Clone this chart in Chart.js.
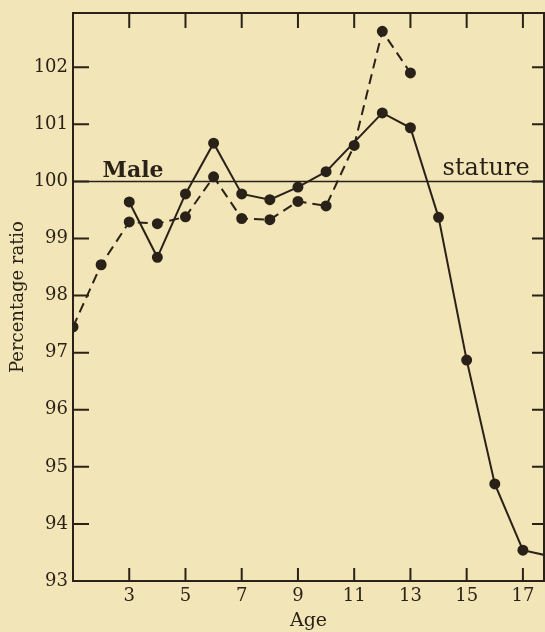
<!DOCTYPE html>
<html>
<head>
<meta charset="utf-8">
<script src="https://cdn.jsdelivr.net/npm/chart.js@4/dist/chart.umd.min.js"></script>
<style>
html, body { margin: 0; padding: 0; background: #f2e5b7; }
#wrap { width: 545px; height: 632px; }
</style>
</head>
<body>
<div id="wrap"><canvas id="ratio" width="545" height="632"></canvas></div>
<script>
// percentage ratio of female to male stature, by age
var dashedAges = [1, 2, 3, 4, 5, 6, 7, 8, 9, 10, 11, 12, 13];
var dashedValues = [97.45, 98.54, 99.29, 99.26, 99.38, 100.08, 99.35, 99.33, 99.65, 99.57, 100.63, 102.63, 101.9];
var solidAges = [3, 4, 5, 6, 7, 8, 9, 10, 12, 13, 14, 15, 16, 17, 18];
var solidValues = [99.64, 98.67, 99.78, 100.67, 99.78, 99.68, 99.9, 100.17, 101.2, 100.94, 99.37, 96.87, 94.7, 93.54, 93.43];
var xTicks = [3, 5, 7, 9, 11, 13, 15, 17];
var yTicks = [93, 94, 95, 96, 97, 98, 99, 100, 101, 102];
var maleLine = 100;

var ink = "#2a2218";
var serif = "'DejaVu Serif', 'Liberation Serif', serif";

function pts(xs, ys) {
    return xs.map(function (x, i) { return { x: x, y: ys[i] }; });
}

var frame = {
    id: "frame",
    beforeDatasetsDraw: function (chart) {
        var ctx = chart.ctx, a = chart.chartArea, y = chart.scales.y;
        var py = y.getPixelForValue(maleLine);
        ctx.save();
        ctx.strokeStyle = ink;
        ctx.lineWidth = 1.5;
        ctx.beginPath();
        ctx.moveTo(a.left, py);
        ctx.lineTo(a.right, py);
        ctx.stroke();
        ctx.restore();
    },
    afterDraw: function (chart) {
        var ctx = chart.ctx, a = chart.chartArea;
        var x = chart.scales.x, y = chart.scales.y;
        ctx.save();
        ctx.strokeStyle = ink;
        ctx.lineWidth = 2;
        ctx.strokeRect(a.left, a.top, a.right - a.left, a.bottom - a.top);
        ctx.beginPath();
        xTicks.forEach(function (v) {
            var px = x.getPixelForValue(v);
            ctx.moveTo(px, a.bottom); ctx.lineTo(px, a.bottom - 13);
            ctx.moveTo(px, a.top); ctx.lineTo(px, a.top + 15);
        });
        yTicks.forEach(function (v) {
            var py = y.getPixelForValue(v);
            ctx.moveTo(a.left, py); ctx.lineTo(a.left + 16, py);
            ctx.moveTo(a.right, py); ctx.lineTo(a.right - 12, py);
        });
        ctx.stroke();

        var py = y.getPixelForValue(maleLine);
        ctx.fillStyle = ink;
        ctx.font = "bold 22px " + serif;
        ctx.textBaseline = "alphabetic";
        ctx.textAlign = "left";
        ctx.fillText("Male", x.getPixelForValue(2.05), py - 4);
        ctx.font = "24px " + serif;
        ctx.textAlign = "right";
        ctx.fillText("stature", x.getPixelForValue(17.24), py - 6);
        ctx.restore();
    }
};

new Chart(document.getElementById("ratio").getContext("2d"), {
    type: "line",
    data: {
        datasets: [
            {
                label: "Female",
                data: pts(dashedAges, dashedValues),
                borderColor: ink,
                backgroundColor: ink,
                borderWidth: 2,
                borderDash: [10, 6],
                pointRadius: 4.5,
                tension: 0,
            },
            {
                label: "Male",
                data: pts(solidAges, solidValues),
                borderColor: ink,
                backgroundColor: ink,
                borderWidth: 2,
                pointRadius: 4.5,
                tension: 0,
            },
        ],
    },
    options: {
        responsive: false,
        animation: false,
        devicePixelRatio: 1,
        layout: { autoPadding: false, padding: { top: 13, right: 1, left: 0, bottom: 0 } },
        plugins: {
            legend: { display: false },
            tooltip: { enabled: false },
        },
        scales: {
            x: {
                type: "linear",
                min: 1,
                max: 17.75,
                grid: { display: false, drawTicks: false },
                border: { display: false },
                afterBuildTicks: function (s) { s.ticks = xTicks.map(function (v) { return { value: v }; }); },
                afterFit: function (s) {
                    s.height = 51;
                    s.paddingLeft = 0;
                    s.paddingRight = 0;
                },
                ticks: { color: ink, font: { family: serif, size: 18 }, padding: 5, maxRotation: 0 },
                title: { display: true, text: "Age", color: ink, font: { family: serif, size: 19 }, padding: { top: 0, bottom: 0 } },
            },
            y: {
                min: 93,
                max: 102.95,
                grid: { display: false, drawTicks: false },
                border: { display: false },
                afterBuildTicks: function (s) { s.ticks = yTicks.map(function (v) { return { value: v }; }); },
                afterFit: function (s) {
                    s.width = 73;
                    s.paddingTop = 0;
                    s.paddingBottom = 0;
                },
                ticks: { color: ink, font: { family: serif, size: 18 }, padding: 5 },
                title: { display: true, text: "Percentage ratio", color: ink, font: { family: serif, size: 18 }, padding: { top: 8, bottom: 0 } },
            },
        },
    },
    plugins: [frame],
});
</script>
</body>
</html>
